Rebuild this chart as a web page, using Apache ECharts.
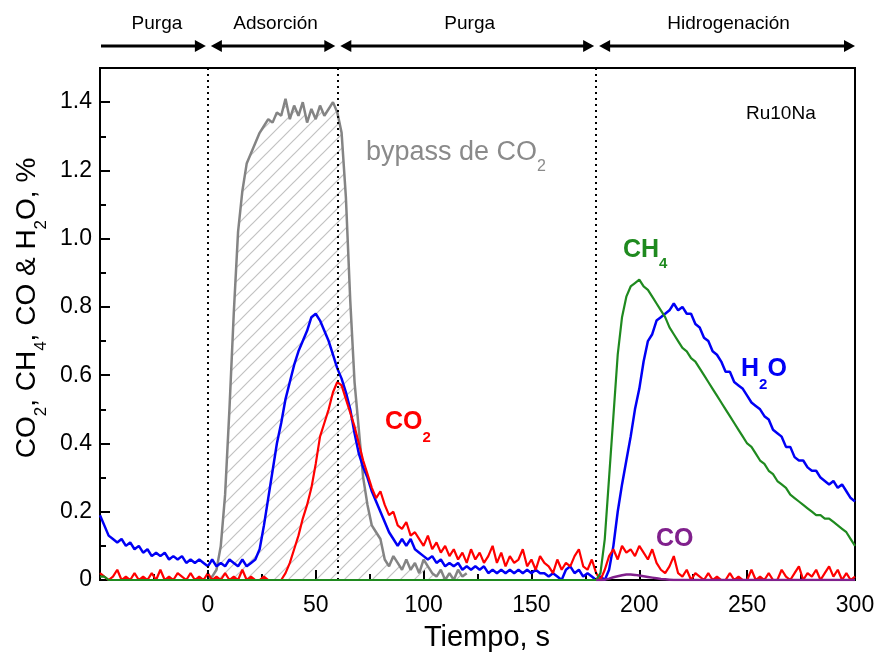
<!DOCTYPE html>
<html>
<head>
<meta charset="utf-8">
<title>Ru10Na</title>
<script src="https://cdn.jsdelivr.net/npm/echarts@6/dist/echarts.min.js"></script>
<style>
  html, body { margin: 0; padding: 0; background: #fff; }
  #chart { width: 878px; height: 657px; }
</style>
</head>
<body>
<div id="chart"></div>
<script>
const FUENTE = "'Liberation Sans', Arial, sans-serif";

// time grid (s), one sample every 2 s
function rango(desde, hasta, paso) {
  const r = [];
  for (let t = desde; t <= hasta; t += paso) r.push(t);
  return r;
}
const tiempo = rango(-50, 300, 2);
const tiempoBypass = rango(0, 120, 2);
const tiempoCO = rango(180, 300, 2);

// stage limits (dotted lines) and stage names
const limitesEtapa = [0, 60, 180];
const etapas = ['Purga', 'Adsorción', 'Purga', 'Hidrogenación'];
const tramosEtapa = [[-50, 0], [0, 60], [60, 180], [180, 300]];

// CO2 bypass, t = 0..120
const bypass = [
  0.00, 0.01, 0.03, 0.10, 0.25, 0.50, 0.78, 1.02, 1.14, 1.22,
  1.25, 1.28, 1.31, 1.33, 1.35, 1.34, 1.37, 1.36, 1.41, 1.35,
  1.39, 1.36, 1.40, 1.34, 1.38, 1.35, 1.39, 1.36, 1.38, 1.40,
  1.37, 1.31, 1.12, 0.82, 0.58, 0.44, 0.30, 0.22, 0.16, 0.14,
  0.12, 0.06, 0.04, 0.07, 0.05, 0.03, 0.06, 0.03, 0.05, 0.02,
  0.06, 0.04, 0.02, 0.01, 0.03, 0.00, 0.02, 0.00, 0.03, 0.01,
  0.02
];

// H2O, t = -50..300
const h2o = [
  0.19, 0.16, 0.13, 0.12, 0.11, 0.12, 0.10, 0.11, 0.09, 0.10,
  0.08, 0.09, 0.07, 0.08, 0.07, 0.08, 0.06, 0.07, 0.06, 0.07,
  0.05, 0.06, 0.05, 0.06, 0.05, 0.04, 0.06, 0.04, 0.05, 0.04,
  0.06, 0.05, 0.04, 0.06, 0.04, 0.05, 0.06, 0.09, 0.16, 0.24,
  0.32, 0.40, 0.46, 0.53, 0.58, 0.63, 0.67, 0.70, 0.73, 0.77,
  0.78, 0.76, 0.73, 0.70, 0.66, 0.62, 0.59, 0.55, 0.50, 0.43,
  0.37, 0.33, 0.30, 0.26, 0.23, 0.20, 0.17, 0.14, 0.12, 0.10,
  0.12, 0.10, 0.12, 0.09, 0.08, 0.07, 0.06, 0.07, 0.05, 0.06,
  0.04, 0.05, 0.04, 0.05, 0.03, 0.04, 0.03, 0.04, 0.03, 0.04,
  0.02, 0.03, 0.02, 0.03, 0.02, 0.03, 0.02, 0.03, 0.02, 0.03,
  0.02, 0.03, 0.02, 0.02, 0.01, 0.02, 0.01, 0.00, 0.03, 0.04,
  0.02, 0.03, 0.01, 0.02, 0.01, 0.00, 0.01, 0.00, 0.03, 0.10,
  0.20, 0.28, 0.35, 0.42, 0.50, 0.56, 0.64, 0.70, 0.72, 0.76,
  0.77, 0.78, 0.79, 0.81, 0.79, 0.80, 0.78, 0.78, 0.75, 0.74,
  0.71, 0.70, 0.67, 0.66, 0.64, 0.61, 0.61, 0.58, 0.57, 0.56,
  0.54, 0.52, 0.51, 0.50, 0.48, 0.47, 0.44, 0.43, 0.42, 0.39,
  0.39, 0.36, 0.35, 0.35, 0.33, 0.32, 0.32, 0.30, 0.29, 0.28,
  0.29, 0.27, 0.28, 0.26, 0.24, 0.23
];

// CO2, t = -50..300
const co2 = [
  0.02, 0.01, 0.00, 0.01, 0.03, 0.00, 0.01, 0.00, 0.02, 0.00,
  0.01, 0.00, 0.02, 0.00, 0.03, 0.00, 0.01, 0.00, 0.02, 0.01,
  0.00, 0.02, 0.00, 0.01, 0.00, 0.02, 0.00, 0.01, 0.00, 0.02,
  0.00, 0.01, 0.00, 0.03, 0.00, 0.01, 0.00, 0.00, 0.01, 0.00,
  0.00, 0.00, 0.00, 0.02, 0.05, 0.09, 0.13, 0.18, 0.22, 0.27,
  0.34, 0.42, 0.46, 0.50, 0.55, 0.58, 0.57, 0.53, 0.49, 0.45,
  0.40, 0.35, 0.31, 0.27, 0.24, 0.26, 0.22, 0.19, 0.20, 0.16,
  0.15, 0.17, 0.13, 0.14, 0.12, 0.10, 0.13, 0.09, 0.11, 0.08,
  0.10, 0.07, 0.09, 0.06, 0.08, 0.05, 0.09, 0.06, 0.08, 0.05,
  0.07, 0.10, 0.05, 0.08, 0.04, 0.07, 0.05, 0.06, 0.09, 0.04,
  0.06, 0.03, 0.07, 0.05, 0.04, 0.02, 0.06, 0.03, 0.05, 0.04,
  0.07, 0.09, 0.04, 0.03, 0.06, 0.02, 0.00, 0.03, 0.07, 0.09,
  0.06, 0.10, 0.08, 0.09, 0.07, 0.10, 0.08, 0.06, 0.09, 0.05,
  0.03, 0.02, 0.04, 0.07, 0.02, 0.01, 0.03, 0.00, 0.02, 0.01,
  0.00, 0.02, 0.00, 0.01, 0.00, 0.00, 0.02, 0.00, 0.01, 0.00,
  0.00, 0.03, 0.00, 0.01, 0.00, 0.02, 0.00, 0.00, 0.03, 0.01,
  0.00, 0.02, 0.04, 0.00, 0.02, 0.01, 0.03, 0.00, 0.02, 0.04,
  0.01, 0.03, 0.00, 0.02, 0.00, 0.01
];

// CH4, t = -50..300
const ch4 = [
  0.01, 0.01, 0, 0, 0, 0, 0, 0, 0, 0,
  0, 0, 0, 0, 0, 0, 0, 0, 0, 0,
  0, 0, 0, 0, 0, 0, 0, 0, 0, 0,
  0, 0, 0, 0, 0, 0, 0, 0, 0, 0,
  0, 0, 0, 0, 0, 0, 0, 0, 0, 0,
  0, 0, 0, 0, 0, 0, 0, 0, 0, 0,
  0, 0, 0, 0, 0, 0, 0, 0, 0, 0,
  0, 0, 0, 0, 0, 0, 0, 0, 0, 0,
  0, 0, 0, 0, 0, 0, 0, 0, 0, 0,
  0, 0, 0, 0, 0, 0, 0, 0, 0, 0,
  0, 0, 0, 0, 0, 0, 0, 0, 0, 0,
  0, 0, 0, 0, 0, 0, 0.02, 0.12, 0.30, 0.48,
  0.66, 0.77, 0.83, 0.86, 0.87, 0.88, 0.86, 0.85, 0.83, 0.81,
  0.79, 0.77, 0.74, 0.72, 0.70, 0.68, 0.67, 0.65, 0.64, 0.62,
  0.60, 0.58, 0.56, 0.54, 0.52, 0.50, 0.48, 0.46, 0.44, 0.42,
  0.40, 0.39, 0.37, 0.35, 0.34, 0.32, 0.31, 0.29, 0.28, 0.27,
  0.25, 0.24, 0.23, 0.22, 0.21, 0.20, 0.19, 0.19, 0.18, 0.18,
  0.17, 0.16, 0.15, 0.14, 0.12, 0.10
];

// CO, t = 180..300
const co = [
  0, 0, 0.001, 0.004, 0.008, 0.011, 0.014, 0.016, 0.016, 0.015,
  0.013, 0.011, 0.009, 0.007, 0.005, 0.003, 0.002, 0.001, 0, 0,
  0, 0, 0, 0, 0, 0, 0, 0, 0, 0,
  0, 0, 0, 0, 0, 0, 0, 0, 0, 0,
  0, 0, 0, 0, 0, 0, 0, 0, 0, 0,
  0, 0, 0, 0, 0, 0, 0, 0, 0, 0,
  0
];

const pares = (xs, ys) => xs.map((x, i) => [x, ys[i]]);

// diagonal hatch tile for the bypass area
function rayado() {
  const s = 14;
  const c = document.createElement('canvas');
  c.width = s; c.height = s;
  const g = c.getContext('2d');
  g.strokeStyle = '#c2c2c2';
  g.lineWidth = 1.2;
  g.beginPath();
  g.moveTo(0, s); g.lineTo(s, 0);
  g.moveTo(-s / 2, s / 2); g.lineTo(s / 2, -s / 2);
  g.moveTo(s / 2, s * 1.5); g.lineTo(s * 1.5, s / 2);
  g.stroke();
  return c;
}

function richSub(color, size, subSize, bold, drop) {
  const w = bold ? 'bold' : 'normal';
  return {
    n: { fontSize: size, lineHeight: size, fontWeight: w, fill: color, fontFamily: FUENTE, verticalAlign: 'top' },
    s: { fontSize: subSize, lineHeight: subSize, fontWeight: w, fill: color, fontFamily: FUENTE, verticalAlign: 'top', padding: [drop, 0, 0, 0] }
  };
}

function etiqueta(x, y, text, rich) {
  return {
    type: 'text', x: x, y: y, z: 50,
    style: { text: text, rich: rich, align: 'left', verticalAlign: 'top', fontFamily: FUENTE }
  };
}

const ejeY = (interval, tickLen, labels) => ({
  type: 'value', position: 'left', min: 0, max: 1.5, interval: interval,
  axisLine: { show: true, onZero: false, lineStyle: { color: '#000', width: 2 } },
  axisTick: { show: true, inside: true, length: tickLen, lineStyle: { color: '#000', width: 2 } },
  splitLine: { show: false },
  axisLabel: {
    show: labels, margin: 8, fontSize: 23, color: '#000', fontFamily: FUENTE,
    formatter: v => (v > 1.45 ? '' : (v === 0 ? '0' : v.toFixed(1)))
  }
});

const chart = echarts.init(document.getElementById('chart'));

const option = {
  animation: false,
  backgroundColor: '#fff',
  grid: { left: 100, right: 23, top: 68, bottom: 77, show: true, borderColor: '#000', borderWidth: 2 },
  xAxis: {
    type: 'value', min: -50, max: 300, interval: 50,
    axisLine: { show: true, onZero: false, lineStyle: { color: '#000', width: 2 } },
    axisTick: { show: true, inside: true, length: 10, lineStyle: { color: '#000', width: 2 } },
    minorTick: { show: true, splitNumber: 2, length: 6, lineStyle: { color: '#000', width: 2 } },
    splitLine: { show: false },
    axisLabel: {
      margin: 14, fontSize: 23, color: '#000', fontFamily: FUENTE,
      formatter: v => (v === -50 ? '' : String(v))
    }
  },
  yAxis: [ejeY(0.1, 6, false), ejeY(0.2, 10, true)],
  series: [
    {
      name: 'bypass de CO2', type: 'line', data: pares(tiempoBypass, bypass),
      showSymbol: false, z: 2,
      lineStyle: { color: '#848484', width: 2.5 },
      areaStyle: { color: { image: rayado(), repeat: 'repeat' }, opacity: 1 }
    },
    {
      name: 'H2O', type: 'line', data: pares(tiempo, h2o), showSymbol: false, z: 3,
      lineStyle: { color: '#0000f5', width: 2.5 }
    },
    {
      name: 'CO2', type: 'line', data: pares(tiempo, co2), showSymbol: false, z: 4,
      lineStyle: { color: '#ff0000', width: 2.2 }
    },
    {
      name: 'CH4', type: 'line', data: pares(tiempo, ch4), showSymbol: false, z: 5,
      lineStyle: { color: '#1f8a1f', width: 2.2 },
      markLine: {
        silent: true, symbol: ['none', 'none'], label: { show: false },
        lineStyle: { color: '#000', width: 2, type: [2, 4] },
        data: limitesEtapa.map(v => ({ xAxis: v }))
      }
    },
    {
      name: 'CO', type: 'line', data: pares(tiempoCO, co), showSymbol: false, z: 6,
      lineStyle: { color: '#80208c', width: 2.5 }
    }
  ]
};

chart.setOption(option);

// stage arrows above the plot
const px = v => chart.convertToPixel({ xAxisIndex: 0 }, v);
const yFlecha = 46;
const graficos = [];
function punta(tip, dir) {
  return {
    type: 'polygon', z: 50,
    shape: { points: [[tip, yFlecha], [tip - dir * 11, yFlecha - 6], [tip - dir * 11, yFlecha + 6]] },
    style: { fill: '#000' }
  };
}
tramosEtapa.forEach((tr, i) => {
  const a = i === 0 ? px(tr[0]) + 1 : px(tr[0]) + 3;
  const b = px(tr[1]) - (i === tramosEtapa.length - 1 ? 0 : 2);
  graficos.push({
    type: 'line', z: 50,
    shape: { x1: a + (i === 0 ? 0 : 6), y1: yFlecha, x2: b - 6, y2: yFlecha },
    style: { stroke: '#000', lineWidth: 3 }
  });
  graficos.push(punta(b, 1));
  if (i > 0) graficos.push(punta(a, -1));
  graficos.push({
    type: 'text', z: 50,
    x: (px(tr[0]) + px(tr[1])) / 2 + 3, y: 24,
    style: { text: etapas[i], fontSize: 19, fontFamily: FUENTE, fill: '#000', align: 'center', verticalAlign: 'middle' }
  });
});

// curve labels
graficos.push(etiqueta(366, 139, '{n|bypass de CO}{s|2}', richSub('#8a8a8a', 27, 16, false, 20)));
graficos.push(etiqueta(385, 410, '{n|CO}{s|2}', richSub('#ff0000', 25, 15, true, 20)));
graficos.push(etiqueta(623, 238, '{n|CH}{s|4}', richSub('#1f8a1f', 25, 15, true, 18)));
graficos.push(etiqueta(741, 357, '{n|H}{s|2}{n|O}', richSub('#0000f5', 25, 15, true, 20)));
graficos.push(etiqueta(656, 527, '{n|CO}', richSub('#80208c', 25, 15, true, 20)));
graficos.push(etiqueta(746, 104, '{n|Ru10Na}', richSub('#000', 19, 12, false, 0)));

// axis titles
graficos.push({
  type: 'text', z: 50, x: 487, y: 638,
  style: { text: 'Tiempo, s', fontSize: 29, fontFamily: FUENTE, fill: '#000', align: 'center', verticalAlign: 'middle' }
});
graficos.push({
  type: 'text', z: 50, x: 27, y: 308, rotation: Math.PI / 2,
  style: {
    text: '{n|CO}{s|2}{n|, CH}{s|4}{n|, CO & H}{s|2}{n|O, %}',
    rich: richSub('#000', 28, 17, false, 20),
    align: 'center', verticalAlign: 'middle', fontFamily: FUENTE
  }
});

chart.setOption({ graphic: graficos });
</script>
</body>
</html>
